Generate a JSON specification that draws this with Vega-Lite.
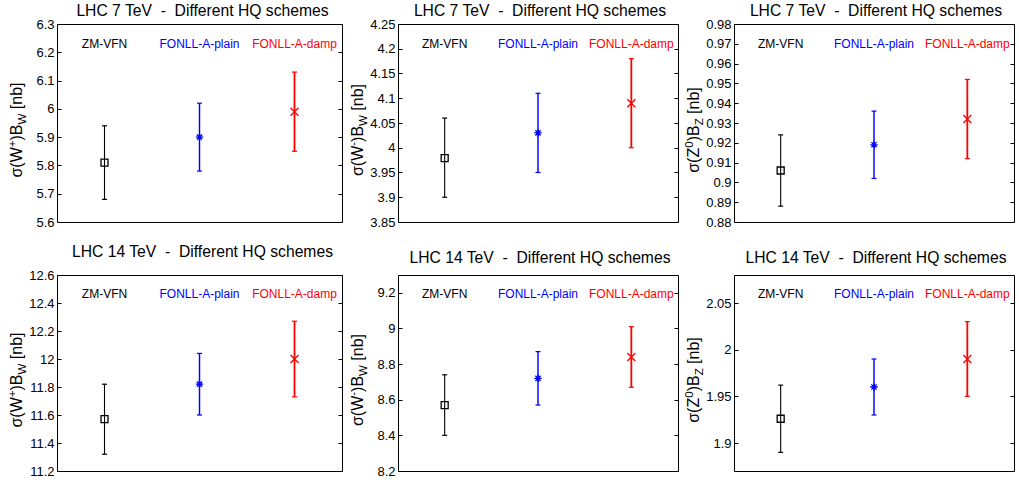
{
  "$schema": "https://vega.github.io/schema/vega-lite/v6.json",
  "background": "white",
  "padding": {"left": 6, "top": 2, "right": 0, "bottom": 0},
  "config": {
    "font": "Liberation Sans",
    "view": {"stroke": "black", "strokeWidth": 1},
    "axis": {"labelFont": "Liberation Sans", "labelFontSize": 13, "labelColor": "black", "tickColor": "black", "tickSize": -4, "tickWidth": 1, "labelPadding": 7, "domain": false, "grid": false, "format": "~g"},
    "title": {"font": "Liberation Sans", "fontSize": 15.7, "fontWeight": 400, "color": "black", "anchor": "middle", "offset": 7},
    "style": {"group-title": {"fontWeight": 400}},
    "text": {"font": "Liberation Sans"}
  },
  "datasets": {
    "pts": [
      {"panel": "wp7", "scheme": "ZM-VFN", "idx": 1, "v": 5.81, "lo": 5.68, "hi": 5.94},
      {"panel": "wp7", "scheme": "FONLL-A-plain", "idx": 2, "v": 5.90, "lo": 5.78, "hi": 6.02},
      {"panel": "wp7", "scheme": "FONLL-A-damp", "idx": 3, "v": 5.99, "lo": 5.85, "hi": 6.13},
      {"panel": "wm7", "scheme": "ZM-VFN", "idx": 1, "v": 3.979, "lo": 3.90, "hi": 4.06},
      {"panel": "wm7", "scheme": "FONLL-A-plain", "idx": 2, "v": 4.03, "lo": 3.95, "hi": 4.11},
      {"panel": "wm7", "scheme": "FONLL-A-damp", "idx": 3, "v": 4.09, "lo": 4.00, "hi": 4.18},
      {"panel": "z7", "scheme": "ZM-VFN", "idx": 1, "v": 0.906, "lo": 0.888, "hi": 0.924},
      {"panel": "z7", "scheme": "FONLL-A-plain", "idx": 2, "v": 0.919, "lo": 0.902, "hi": 0.936},
      {"panel": "z7", "scheme": "FONLL-A-damp", "idx": 3, "v": 0.932, "lo": 0.912, "hi": 0.952},
      {"panel": "wp14", "scheme": "ZM-VFN", "idx": 1, "v": 11.57, "lo": 11.32, "hi": 11.82},
      {"panel": "wp14", "scheme": "FONLL-A-plain", "idx": 2, "v": 11.82, "lo": 11.60, "hi": 12.04},
      {"panel": "wp14", "scheme": "FONLL-A-damp", "idx": 3, "v": 12.00, "lo": 11.73, "hi": 12.27},
      {"panel": "wm14", "scheme": "ZM-VFN", "idx": 1, "v": 8.57, "lo": 8.40, "hi": 8.74},
      {"panel": "wm14", "scheme": "FONLL-A-plain", "idx": 2, "v": 8.72, "lo": 8.57, "hi": 8.87},
      {"panel": "wm14", "scheme": "FONLL-A-damp", "idx": 3, "v": 8.84, "lo": 8.67, "hi": 9.01},
      {"panel": "z14", "scheme": "ZM-VFN", "idx": 1, "v": 1.926, "lo": 1.89, "hi": 1.962},
      {"panel": "z14", "scheme": "FONLL-A-plain", "idx": 2, "v": 1.96, "lo": 1.93, "hi": 1.99},
      {"panel": "z14", "scheme": "FONLL-A-damp", "idx": 3, "v": 1.99, "lo": 1.95, "hi": 2.03}
    ]
  },
  "data": {"name": "pts"},
  "columns": 3,
  "bounds": "flush",
  "spacing": {"row": 53, "column": 56},
  "concat": [
    {
      "width": 285, "height": 198,
      "title": {"text": "LHC 7 TeV\u00a0\u00a0-\u00a0\u00a0Different HQ schemes", "fontWeight": 400, "fontSize": 15.7, "offset": -2, "dx": 3},
      "transform": [{"filter": "datum.panel == 'wp7'"}],
      "encoding": {
        "x": {"field": "idx", "type": "quantitative", "scale": {"domain": [0.5, 3.5], "nice": false, "zero": false}, "axis": null},
        "color": {"field": "scheme", "type": "nominal", "scale": {"domain": ["ZM-VFN", "FONLL-A-plain", "FONLL-A-damp"], "range": ["#000000", "#0000ff", "#ff0000"]}, "legend": null}
      },
      "layer": [
        {"mark": {"type": "rule"}, "encoding": {"y": {"field": "lo", "type": "quantitative", "scale": {"domain": [5.6, 6.3], "nice": false, "zero": false}, "axis": {"orient": "left", "title": null, "values": [5.6, 5.7, 5.8, 5.9, 6, 6.1, 6.2, 6.3]}}, "y2": {"field": "hi"}, "strokeWidth": {"field": "scheme", "type": "nominal", "scale": {"domain": ["ZM-VFN", "FONLL-A-plain", "FONLL-A-damp"], "range": [1.1, 1.8, 1.1]}, "legend": null}}},
        {"mark": {"type": "point", "shape": "M-1,0L1,0", "size": 25, "filled": false, "strokeWidth": 1.2, "opacity": 1}, "encoding": {"y": {"field": "lo", "type": "quantitative", "axis": null}}},
        {"mark": {"type": "point", "shape": "M-1,0L1,0", "size": 25, "filled": false, "strokeWidth": 1.2, "opacity": 1}, "encoding": {"y": {"field": "hi", "type": "quantitative", "axis": null}}},
        {"mark": {"type": "point", "filled": false, "strokeWidth": 1.3, "opacity": 1}, "encoding": {
          "y": {"field": "v", "type": "quantitative", "axis": {"orient": "right", "title": null, "labels": false, "values": [5.6, 5.7, 5.8, 5.9, 6, 6.1, 6.2, 6.3]}},
          "shape": {"field": "scheme", "type": "nominal", "scale": {"domain": ["ZM-VFN", "FONLL-A-plain", "FONLL-A-damp"], "range": ["square", "M-1,0L1,0M0,-1L0,1M-0.7,-0.7L0.7,0.7M-0.7,0.7L0.7,-0.7", "M-1,-1L1,1M-1,1L1,-1"]}, "legend": null},
          "size": {"field": "scheme", "type": "nominal", "scale": {"domain": ["ZM-VFN", "FONLL-A-plain", "FONLL-A-damp"], "range": [49, 64, 49]}, "legend": null}}},
        {"mark": {"type": "text", "fontSize": 12, "dy": 20, "baseline": "middle"}, "encoding": {"y": {"datum": 6.3, "axis": null}, "text": {"field": "scheme"}}},
        {"transform": [{"filter": "datum.idx == 1"}], "mark": {"type": "text", "angle": 270, "align": "left", "baseline": "alphabetic", "fontSize": 16, "dx": -54.5, "dy": -35}, "encoding": {"x": {"datum": 0.5}, "y": {"datum": 5.95, "axis": null}, "text": {"value": "σ(W"}, "color": {"value": "black"}}},
        {"transform": [{"filter": "datum.idx == 1"}], "mark": {"type": "text", "angle": 270, "align": "left", "baseline": "alphabetic", "fontSize": 11.5, "dx": -24.2, "dy": -41}, "encoding": {"x": {"datum": 0.5}, "y": {"datum": 5.95, "axis": null}, "text": {"value": "+"}, "color": {"value": "black"}}},
        {"transform": [{"filter": "datum.idx == 1"}], "mark": {"type": "text", "angle": 270, "align": "left", "baseline": "alphabetic", "fontSize": 16, "dx": -17.5, "dy": -35}, "encoding": {"x": {"datum": 0.5}, "y": {"datum": 5.95, "axis": null}, "text": {"value": ")B"}, "color": {"value": "black"}}},
        {"transform": [{"filter": "datum.idx == 1"}], "mark": {"type": "text", "angle": 270, "align": "left", "baseline": "alphabetic", "fontSize": 11.5, "dx": -1.5, "dy": -31.5}, "encoding": {"x": {"datum": 0.5}, "y": {"datum": 5.95, "axis": null}, "text": {"value": "W"}, "color": {"value": "black"}}},
        {"transform": [{"filter": "datum.idx == 1"}], "mark": {"type": "text", "angle": 270, "align": "left", "baseline": "alphabetic", "fontSize": 16, "dx": 13.8, "dy": -35}, "encoding": {"x": {"datum": 0.5}, "y": {"datum": 5.95, "axis": null}, "text": {"value": "[nb]"}, "color": {"value": "black"}}}
      ],
      "resolve": {"axis": {"y": "independent"}}
    },
    {
      "width": 280, "height": 198,
      "title": {"text": "LHC 7 TeV\u00a0\u00a0-\u00a0\u00a0Different HQ schemes", "fontWeight": 400, "fontSize": 15.7, "offset": -2, "dx": 2},
      "transform": [{"filter": "datum.panel == 'wm7'"}],
      "encoding": {
        "x": {"field": "idx", "type": "quantitative", "scale": {"domain": [0.5, 3.5], "nice": false, "zero": false}, "axis": null},
        "color": {"field": "scheme", "type": "nominal", "scale": {"domain": ["ZM-VFN", "FONLL-A-plain", "FONLL-A-damp"], "range": ["#000000", "#0000ff", "#ff0000"]}, "legend": null}
      },
      "layer": [
        {"mark": {"type": "rule"}, "encoding": {"y": {"field": "lo", "type": "quantitative", "scale": {"domain": [3.85, 4.25], "nice": false, "zero": false}, "axis": {"orient": "left", "title": null, "values": [3.85, 3.9, 3.95, 4, 4.05, 4.1, 4.15, 4.2, 4.25]}}, "y2": {"field": "hi"}, "strokeWidth": {"field": "scheme", "type": "nominal", "scale": {"domain": ["ZM-VFN", "FONLL-A-plain", "FONLL-A-damp"], "range": [1.1, 1.8, 1.1]}, "legend": null}}},
        {"mark": {"type": "point", "shape": "M-1,0L1,0", "size": 25, "filled": false, "strokeWidth": 1.2, "opacity": 1}, "encoding": {"y": {"field": "lo", "type": "quantitative", "axis": null}}},
        {"mark": {"type": "point", "shape": "M-1,0L1,0", "size": 25, "filled": false, "strokeWidth": 1.2, "opacity": 1}, "encoding": {"y": {"field": "hi", "type": "quantitative", "axis": null}}},
        {"mark": {"type": "point", "filled": false, "strokeWidth": 1.3, "opacity": 1}, "encoding": {
          "y": {"field": "v", "type": "quantitative", "axis": {"orient": "right", "title": null, "labels": false, "values": [3.85, 3.9, 3.95, 4, 4.05, 4.1, 4.15, 4.2, 4.25]}},
          "shape": {"field": "scheme", "type": "nominal", "scale": {"domain": ["ZM-VFN", "FONLL-A-plain", "FONLL-A-damp"], "range": ["square", "M-1,0L1,0M0,-1L0,1M-0.7,-0.7L0.7,0.7M-0.7,0.7L0.7,-0.7", "M-1,-1L1,1M-1,1L1,-1"]}, "legend": null},
          "size": {"field": "scheme", "type": "nominal", "scale": {"domain": ["ZM-VFN", "FONLL-A-plain", "FONLL-A-damp"], "range": [49, 64, 49]}, "legend": null}}},
        {"mark": {"type": "text", "fontSize": 12, "dy": 20, "baseline": "middle"}, "encoding": {"y": {"datum": 4.25, "axis": null}, "text": {"field": "scheme"}}},
        {"transform": [{"filter": "datum.idx == 1"}], "mark": {"type": "text", "angle": 270, "align": "left", "baseline": "alphabetic", "fontSize": 16, "dx": -53.05, "dy": -35}, "encoding": {"x": {"datum": 0.5}, "y": {"datum": 4.05, "axis": null}, "text": {"value": "σ(W"}, "color": {"value": "black"}}},
        {"transform": [{"filter": "datum.idx == 1"}], "mark": {"type": "text", "angle": 270, "align": "left", "baseline": "alphabetic", "fontSize": 11.5, "dx": -22.75, "dy": -41}, "encoding": {"x": {"datum": 0.5}, "y": {"datum": 4.05, "axis": null}, "text": {"value": "-"}, "color": {"value": "black"}}},
        {"transform": [{"filter": "datum.idx == 1"}], "mark": {"type": "text", "angle": 270, "align": "left", "baseline": "alphabetic", "fontSize": 16, "dx": -18.95, "dy": -35}, "encoding": {"x": {"datum": 0.5}, "y": {"datum": 4.05, "axis": null}, "text": {"value": ")B"}, "color": {"value": "black"}}},
        {"transform": [{"filter": "datum.idx == 1"}], "mark": {"type": "text", "angle": 270, "align": "left", "baseline": "alphabetic", "fontSize": 11.5, "dx": -2.95, "dy": -31.5}, "encoding": {"x": {"datum": 0.5}, "y": {"datum": 4.05, "axis": null}, "text": {"value": "W"}, "color": {"value": "black"}}},
        {"transform": [{"filter": "datum.idx == 1"}], "mark": {"type": "text", "angle": 270, "align": "left", "baseline": "alphabetic", "fontSize": 16, "dx": 12.35, "dy": -35}, "encoding": {"x": {"datum": 0.5}, "y": {"datum": 4.05, "axis": null}, "text": {"value": "[nb]"}, "color": {"value": "black"}}}
      ],
      "resolve": {"axis": {"y": "independent"}}
    },
    {
      "width": 280, "height": 198,
      "title": {"text": "LHC 7 TeV\u00a0\u00a0-\u00a0\u00a0Different HQ schemes", "fontWeight": 400, "fontSize": 15.7, "offset": -2, "dx": 2},
      "transform": [{"filter": "datum.panel == 'z7'"}],
      "encoding": {
        "x": {"field": "idx", "type": "quantitative", "scale": {"domain": [0.5, 3.5], "nice": false, "zero": false}, "axis": null},
        "color": {"field": "scheme", "type": "nominal", "scale": {"domain": ["ZM-VFN", "FONLL-A-plain", "FONLL-A-damp"], "range": ["#000000", "#0000ff", "#ff0000"]}, "legend": null}
      },
      "layer": [
        {"mark": {"type": "rule"}, "encoding": {"y": {"field": "lo", "type": "quantitative", "scale": {"domain": [0.88, 0.98], "nice": false, "zero": false}, "axis": {"orient": "left", "title": null, "values": [0.88, 0.89, 0.9, 0.91, 0.92, 0.93, 0.94, 0.95, 0.96, 0.97, 0.98]}}, "y2": {"field": "hi"}, "strokeWidth": {"field": "scheme", "type": "nominal", "scale": {"domain": ["ZM-VFN", "FONLL-A-plain", "FONLL-A-damp"], "range": [1.1, 1.8, 1.1]}, "legend": null}}},
        {"mark": {"type": "point", "shape": "M-1,0L1,0", "size": 25, "filled": false, "strokeWidth": 1.2, "opacity": 1}, "encoding": {"y": {"field": "lo", "type": "quantitative", "axis": null}}},
        {"mark": {"type": "point", "shape": "M-1,0L1,0", "size": 25, "filled": false, "strokeWidth": 1.2, "opacity": 1}, "encoding": {"y": {"field": "hi", "type": "quantitative", "axis": null}}},
        {"mark": {"type": "point", "filled": false, "strokeWidth": 1.3, "opacity": 1}, "encoding": {
          "y": {"field": "v", "type": "quantitative", "axis": {"orient": "right", "title": null, "labels": false, "values": [0.88, 0.89, 0.9, 0.91, 0.92, 0.93, 0.94, 0.95, 0.96, 0.97, 0.98]}},
          "shape": {"field": "scheme", "type": "nominal", "scale": {"domain": ["ZM-VFN", "FONLL-A-plain", "FONLL-A-damp"], "range": ["square", "M-1,0L1,0M0,-1L0,1M-0.7,-0.7L0.7,0.7M-0.7,0.7L0.7,-0.7", "M-1,-1L1,1M-1,1L1,-1"]}, "legend": null},
          "size": {"field": "scheme", "type": "nominal", "scale": {"domain": ["ZM-VFN", "FONLL-A-plain", "FONLL-A-damp"], "range": [49, 64, 49]}, "legend": null}}},
        {"mark": {"type": "text", "fontSize": 12, "dy": 20, "baseline": "middle"}, "encoding": {"y": {"datum": 0.98, "axis": null}, "text": {"field": "scheme"}}},
        {"transform": [{"filter": "datum.idx == 1"}], "mark": {"type": "text", "angle": 270, "align": "left", "baseline": "alphabetic", "fontSize": 16, "dx": -49.75, "dy": -35}, "encoding": {"x": {"datum": 0.5}, "y": {"datum": 0.93, "axis": null}, "text": {"value": "σ(Z"}, "color": {"value": "black"}}},
        {"transform": [{"filter": "datum.idx == 1"}], "mark": {"type": "text", "angle": 270, "align": "left", "baseline": "alphabetic", "fontSize": 11.5, "dx": -24.75, "dy": -41}, "encoding": {"x": {"datum": 0.5}, "y": {"datum": 0.93, "axis": null}, "text": {"value": "0"}, "color": {"value": "black"}}},
        {"transform": [{"filter": "datum.idx == 1"}], "mark": {"type": "text", "angle": 270, "align": "left", "baseline": "alphabetic", "fontSize": 16, "dx": -18.35, "dy": -35}, "encoding": {"x": {"datum": 0.5}, "y": {"datum": 0.93, "axis": null}, "text": {"value": ")B"}, "color": {"value": "black"}}},
        {"transform": [{"filter": "datum.idx == 1"}], "mark": {"type": "text", "angle": 270, "align": "left", "baseline": "alphabetic", "fontSize": 11.5, "dx": -2.35, "dy": -31.5}, "encoding": {"x": {"datum": 0.5}, "y": {"datum": 0.93, "axis": null}, "text": {"value": "Z"}, "color": {"value": "black"}}},
        {"transform": [{"filter": "datum.idx == 1"}], "mark": {"type": "text", "angle": 270, "align": "left", "baseline": "alphabetic", "fontSize": 16, "dx": 9.05, "dy": -35}, "encoding": {"x": {"datum": 0.5}, "y": {"datum": 0.93, "axis": null}, "text": {"value": "[nb]"}, "color": {"value": "black"}}}
      ],
      "resolve": {"axis": {"y": "independent"}}
    },
    {
      "width": 285, "height": 196,
      "title": {"text": "LHC 14 TeV\u00a0\u00a0-\u00a0\u00a0Different HQ schemes", "fontWeight": 400, "fontSize": 15.7, "offset": 8, "dx": 3},
      "transform": [{"filter": "datum.panel == 'wp14'"}],
      "encoding": {
        "x": {"field": "idx", "type": "quantitative", "scale": {"domain": [0.5, 3.5], "nice": false, "zero": false}, "axis": null},
        "color": {"field": "scheme", "type": "nominal", "scale": {"domain": ["ZM-VFN", "FONLL-A-plain", "FONLL-A-damp"], "range": ["#000000", "#0000ff", "#ff0000"]}, "legend": null}
      },
      "layer": [
        {"mark": {"type": "rule"}, "encoding": {"y": {"field": "lo", "type": "quantitative", "scale": {"domain": [11.2, 12.6], "nice": false, "zero": false}, "axis": {"orient": "left", "title": null, "values": [11.2, 11.4, 11.6, 11.8, 12, 12.2, 12.4, 12.6]}}, "y2": {"field": "hi"}, "strokeWidth": {"field": "scheme", "type": "nominal", "scale": {"domain": ["ZM-VFN", "FONLL-A-plain", "FONLL-A-damp"], "range": [1.1, 1.8, 1.1]}, "legend": null}}},
        {"mark": {"type": "point", "shape": "M-1,0L1,0", "size": 25, "filled": false, "strokeWidth": 1.2, "opacity": 1}, "encoding": {"y": {"field": "lo", "type": "quantitative", "axis": null}}},
        {"mark": {"type": "point", "shape": "M-1,0L1,0", "size": 25, "filled": false, "strokeWidth": 1.2, "opacity": 1}, "encoding": {"y": {"field": "hi", "type": "quantitative", "axis": null}}},
        {"mark": {"type": "point", "filled": false, "strokeWidth": 1.3, "opacity": 1}, "encoding": {
          "y": {"field": "v", "type": "quantitative", "axis": {"orient": "right", "title": null, "labels": false, "values": [11.2, 11.4, 11.6, 11.8, 12, 12.2, 12.4, 12.6]}},
          "shape": {"field": "scheme", "type": "nominal", "scale": {"domain": ["ZM-VFN", "FONLL-A-plain", "FONLL-A-damp"], "range": ["square", "M-1,0L1,0M0,-1L0,1M-0.7,-0.7L0.7,0.7M-0.7,0.7L0.7,-0.7", "M-1,-1L1,1M-1,1L1,-1"]}, "legend": null},
          "size": {"field": "scheme", "type": "nominal", "scale": {"domain": ["ZM-VFN", "FONLL-A-plain", "FONLL-A-damp"], "range": [49, 64, 49]}, "legend": null}}},
        {"mark": {"type": "text", "fontSize": 12, "dy": 19, "baseline": "middle"}, "encoding": {"y": {"datum": 12.6, "axis": null}, "text": {"field": "scheme"}}},
        {"transform": [{"filter": "datum.idx == 1"}], "mark": {"type": "text", "angle": 270, "align": "left", "baseline": "alphabetic", "fontSize": 16, "dx": -54.5, "dy": -35}, "encoding": {"x": {"datum": 0.5}, "y": {"datum": 11.9, "axis": null}, "text": {"value": "σ(W"}, "color": {"value": "black"}}},
        {"transform": [{"filter": "datum.idx == 1"}], "mark": {"type": "text", "angle": 270, "align": "left", "baseline": "alphabetic", "fontSize": 11.5, "dx": -24.2, "dy": -41}, "encoding": {"x": {"datum": 0.5}, "y": {"datum": 11.9, "axis": null}, "text": {"value": "+"}, "color": {"value": "black"}}},
        {"transform": [{"filter": "datum.idx == 1"}], "mark": {"type": "text", "angle": 270, "align": "left", "baseline": "alphabetic", "fontSize": 16, "dx": -17.5, "dy": -35}, "encoding": {"x": {"datum": 0.5}, "y": {"datum": 11.9, "axis": null}, "text": {"value": ")B"}, "color": {"value": "black"}}},
        {"transform": [{"filter": "datum.idx == 1"}], "mark": {"type": "text", "angle": 270, "align": "left", "baseline": "alphabetic", "fontSize": 11.5, "dx": -1.5, "dy": -31.5}, "encoding": {"x": {"datum": 0.5}, "y": {"datum": 11.9, "axis": null}, "text": {"value": "W"}, "color": {"value": "black"}}},
        {"transform": [{"filter": "datum.idx == 1"}], "mark": {"type": "text", "angle": 270, "align": "left", "baseline": "alphabetic", "fontSize": 16, "dx": 13.8, "dy": -35}, "encoding": {"x": {"datum": 0.5}, "y": {"datum": 11.9, "axis": null}, "text": {"value": "[nb]"}, "color": {"value": "black"}}}
      ],
      "resolve": {"axis": {"y": "independent"}}
    },
    {
      "width": 280, "height": 196,
      "title": {"text": "LHC 14 TeV\u00a0\u00a0-\u00a0\u00a0Different HQ schemes", "fontWeight": 400, "fontSize": 15.7, "offset": 8, "dx": 2},
      "transform": [{"filter": "datum.panel == 'wm14'"}],
      "encoding": {
        "x": {"field": "idx", "type": "quantitative", "scale": {"domain": [0.5, 3.5], "nice": false, "zero": false}, "axis": null},
        "color": {"field": "scheme", "type": "nominal", "scale": {"domain": ["ZM-VFN", "FONLL-A-plain", "FONLL-A-damp"], "range": ["#000000", "#0000ff", "#ff0000"]}, "legend": null}
      },
      "layer": [
        {"mark": {"type": "rule"}, "encoding": {"y": {"field": "lo", "type": "quantitative", "scale": {"domain": [8.2, 9.3], "nice": false, "zero": false}, "axis": {"orient": "left", "title": null, "values": [8.2, 8.4, 8.6, 8.8, 9, 9.2]}}, "y2": {"field": "hi"}, "strokeWidth": {"field": "scheme", "type": "nominal", "scale": {"domain": ["ZM-VFN", "FONLL-A-plain", "FONLL-A-damp"], "range": [1.1, 1.8, 1.1]}, "legend": null}}},
        {"mark": {"type": "point", "shape": "M-1,0L1,0", "size": 25, "filled": false, "strokeWidth": 1.2, "opacity": 1}, "encoding": {"y": {"field": "lo", "type": "quantitative", "axis": null}}},
        {"mark": {"type": "point", "shape": "M-1,0L1,0", "size": 25, "filled": false, "strokeWidth": 1.2, "opacity": 1}, "encoding": {"y": {"field": "hi", "type": "quantitative", "axis": null}}},
        {"mark": {"type": "point", "filled": false, "strokeWidth": 1.3, "opacity": 1}, "encoding": {
          "y": {"field": "v", "type": "quantitative", "axis": {"orient": "right", "title": null, "labels": false, "values": [8.2, 8.4, 8.6, 8.8, 9, 9.2]}},
          "shape": {"field": "scheme", "type": "nominal", "scale": {"domain": ["ZM-VFN", "FONLL-A-plain", "FONLL-A-damp"], "range": ["square", "M-1,0L1,0M0,-1L0,1M-0.7,-0.7L0.7,0.7M-0.7,0.7L0.7,-0.7", "M-1,-1L1,1M-1,1L1,-1"]}, "legend": null},
          "size": {"field": "scheme", "type": "nominal", "scale": {"domain": ["ZM-VFN", "FONLL-A-plain", "FONLL-A-damp"], "range": [49, 64, 49]}, "legend": null}}},
        {"mark": {"type": "text", "fontSize": 12, "dy": 19, "baseline": "middle"}, "encoding": {"y": {"datum": 9.3, "axis": null}, "text": {"field": "scheme"}}},
        {"transform": [{"filter": "datum.idx == 1"}], "mark": {"type": "text", "angle": 270, "align": "left", "baseline": "alphabetic", "fontSize": 16, "dx": -53.05, "dy": -35}, "encoding": {"x": {"datum": 0.5}, "y": {"datum": 8.75, "axis": null}, "text": {"value": "σ(W"}, "color": {"value": "black"}}},
        {"transform": [{"filter": "datum.idx == 1"}], "mark": {"type": "text", "angle": 270, "align": "left", "baseline": "alphabetic", "fontSize": 11.5, "dx": -22.75, "dy": -41}, "encoding": {"x": {"datum": 0.5}, "y": {"datum": 8.75, "axis": null}, "text": {"value": "-"}, "color": {"value": "black"}}},
        {"transform": [{"filter": "datum.idx == 1"}], "mark": {"type": "text", "angle": 270, "align": "left", "baseline": "alphabetic", "fontSize": 16, "dx": -18.95, "dy": -35}, "encoding": {"x": {"datum": 0.5}, "y": {"datum": 8.75, "axis": null}, "text": {"value": ")B"}, "color": {"value": "black"}}},
        {"transform": [{"filter": "datum.idx == 1"}], "mark": {"type": "text", "angle": 270, "align": "left", "baseline": "alphabetic", "fontSize": 11.5, "dx": -2.95, "dy": -31.5}, "encoding": {"x": {"datum": 0.5}, "y": {"datum": 8.75, "axis": null}, "text": {"value": "W"}, "color": {"value": "black"}}},
        {"transform": [{"filter": "datum.idx == 1"}], "mark": {"type": "text", "angle": 270, "align": "left", "baseline": "alphabetic", "fontSize": 16, "dx": 12.35, "dy": -35}, "encoding": {"x": {"datum": 0.5}, "y": {"datum": 8.75, "axis": null}, "text": {"value": "[nb]"}, "color": {"value": "black"}}}
      ],
      "resolve": {"axis": {"y": "independent"}}
    },
    {
      "width": 280, "height": 196,
      "title": {"text": "LHC 14 TeV\u00a0\u00a0-\u00a0\u00a0Different HQ schemes", "fontWeight": 400, "fontSize": 15.7, "offset": 8, "dx": 2},
      "transform": [{"filter": "datum.panel == 'z14'"}],
      "encoding": {
        "x": {"field": "idx", "type": "quantitative", "scale": {"domain": [0.5, 3.5], "nice": false, "zero": false}, "axis": null},
        "color": {"field": "scheme", "type": "nominal", "scale": {"domain": ["ZM-VFN", "FONLL-A-plain", "FONLL-A-damp"], "range": ["#000000", "#0000ff", "#ff0000"]}, "legend": null}
      },
      "layer": [
        {"mark": {"type": "rule"}, "encoding": {"y": {"field": "lo", "type": "quantitative", "scale": {"domain": [1.87, 2.08], "nice": false, "zero": false}, "axis": {"orient": "left", "title": null, "values": [1.9, 1.95, 2, 2.05]}}, "y2": {"field": "hi"}, "strokeWidth": {"field": "scheme", "type": "nominal", "scale": {"domain": ["ZM-VFN", "FONLL-A-plain", "FONLL-A-damp"], "range": [1.1, 1.8, 1.1]}, "legend": null}}},
        {"mark": {"type": "point", "shape": "M-1,0L1,0", "size": 25, "filled": false, "strokeWidth": 1.2, "opacity": 1}, "encoding": {"y": {"field": "lo", "type": "quantitative", "axis": null}}},
        {"mark": {"type": "point", "shape": "M-1,0L1,0", "size": 25, "filled": false, "strokeWidth": 1.2, "opacity": 1}, "encoding": {"y": {"field": "hi", "type": "quantitative", "axis": null}}},
        {"mark": {"type": "point", "filled": false, "strokeWidth": 1.3, "opacity": 1}, "encoding": {
          "y": {"field": "v", "type": "quantitative", "axis": {"orient": "right", "title": null, "labels": false, "values": [1.9, 1.95, 2, 2.05]}},
          "shape": {"field": "scheme", "type": "nominal", "scale": {"domain": ["ZM-VFN", "FONLL-A-plain", "FONLL-A-damp"], "range": ["square", "M-1,0L1,0M0,-1L0,1M-0.7,-0.7L0.7,0.7M-0.7,0.7L0.7,-0.7", "M-1,-1L1,1M-1,1L1,-1"]}, "legend": null},
          "size": {"field": "scheme", "type": "nominal", "scale": {"domain": ["ZM-VFN", "FONLL-A-plain", "FONLL-A-damp"], "range": [49, 64, 49]}, "legend": null}}},
        {"mark": {"type": "text", "fontSize": 12, "dy": 19, "baseline": "middle"}, "encoding": {"y": {"datum": 2.08, "axis": null}, "text": {"field": "scheme"}}},
        {"transform": [{"filter": "datum.idx == 1"}], "mark": {"type": "text", "angle": 270, "align": "left", "baseline": "alphabetic", "fontSize": 16, "dx": -49.75, "dy": -35}, "encoding": {"x": {"datum": 0.5}, "y": {"datum": 1.975, "axis": null}, "text": {"value": "σ(Z"}, "color": {"value": "black"}}},
        {"transform": [{"filter": "datum.idx == 1"}], "mark": {"type": "text", "angle": 270, "align": "left", "baseline": "alphabetic", "fontSize": 11.5, "dx": -24.75, "dy": -41}, "encoding": {"x": {"datum": 0.5}, "y": {"datum": 1.975, "axis": null}, "text": {"value": "0"}, "color": {"value": "black"}}},
        {"transform": [{"filter": "datum.idx == 1"}], "mark": {"type": "text", "angle": 270, "align": "left", "baseline": "alphabetic", "fontSize": 16, "dx": -18.35, "dy": -35}, "encoding": {"x": {"datum": 0.5}, "y": {"datum": 1.975, "axis": null}, "text": {"value": ")B"}, "color": {"value": "black"}}},
        {"transform": [{"filter": "datum.idx == 1"}], "mark": {"type": "text", "angle": 270, "align": "left", "baseline": "alphabetic", "fontSize": 11.5, "dx": -2.35, "dy": -31.5}, "encoding": {"x": {"datum": 0.5}, "y": {"datum": 1.975, "axis": null}, "text": {"value": "Z"}, "color": {"value": "black"}}},
        {"transform": [{"filter": "datum.idx == 1"}], "mark": {"type": "text", "angle": 270, "align": "left", "baseline": "alphabetic", "fontSize": 16, "dx": 9.05, "dy": -35}, "encoding": {"x": {"datum": 0.5}, "y": {"datum": 1.975, "axis": null}, "text": {"value": "[nb]"}, "color": {"value": "black"}}}
      ],
      "resolve": {"axis": {"y": "independent"}}
    }
  ]
}
